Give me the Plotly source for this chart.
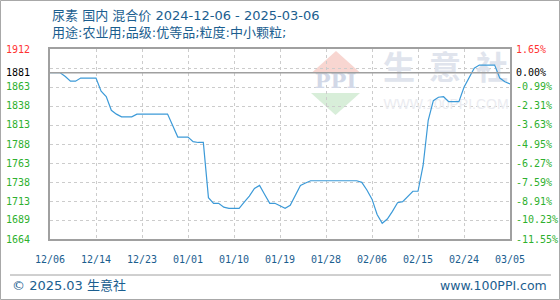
import numpy as np
import plotly.graph_objects as go

# ---------------- data ----------------
day_index = list(range(91))
price = [
    1881, 1881, 1881, 1876, 1870, 1870, 1874, 1874, 1874, 1874,
    1857, 1850, 1832, 1827, 1823.5, 1823.5, 1823.5, 1827, 1827, 1827,
    1827, 1827, 1827, 1827, 1812, 1797, 1797, 1797, 1791, 1790,
    1790, 1718, 1710.6, 1710.6, 1705.5, 1704, 1704, 1704, 1712, 1720,
    1730, 1734, 1722, 1710.6, 1710.6, 1707, 1704, 1708, 1720, 1734,
    1737, 1740, 1740, 1740, 1740, 1740, 1740, 1740, 1740, 1740,
    1740, 1738, 1728, 1716, 1696, 1684.5, 1690, 1700, 1711.4, 1712.7,
    1720, 1726.3, 1726.3, 1760, 1819, 1844.5, 1849, 1849.7, 1843.2, 1843.2,
    1843.2, 1862, 1874, 1887, 1891, 1891, 1891, 1891, 1874, 1869.3,
    1866.3,
]
x_tick_pos = [0, 9, 18, 27, 36, 45, 54, 63, 72, 81, 90]
x_tick_labels = ["12/06", "12/14", "12/23", "01/01", "01/10", "01/19",
                 "01/28", "02/06", "02/15", "02/24", "03/05"]
left_labels = [1912, 1881, 1863, 1838, 1813, 1788, 1763, 1738, 1713, 1689, 1664]
right_labels = ["1.65%", "0.00%", "-0.99%", "-2.31%", "-3.63%", "-4.95%",
                "-6.27%", "-7.59%", "-8.91%", "-10.23%", "-11.55%"]
base_value = 1881
title_text = "尿素 国内 混合价 2024-12-06 - 2025-03-06"
subtitle_text = "用途:农业用;品级:优等品;粒度:中小颗粒;"
watermark_chars = ["生", "意", "社"]

# ---------------- layout helpers ----------------
W, H = 560, 300
L, R, T, B = 50, 510, 49, 239
y_min, y_max = 1664, 1912
x_min, x_max = 0, 90


def px_x(px):
    return (px - L) / (R - L)


def px_y(py):
    return (B - py) / (B - T)


def dx(px):  # pixel -> data x (for watermark placement only)
    return x_min + px_x(px) * (x_max - x_min)


def dy(py):  # pixel -> data y (for watermark placement only)
    return y_min + px_y(py) * (y_max - y_min)


BLUE = "#1b5e8f"
GREEN = "#2eb02e"
RED = "#ff3333"
NUM_FONT = "DejaVu Sans Mono"
TXT_FONT = "DejaVu Sans, Noto Sans CJK SC"

fig = go.Figure()

# watermark texts as text traces (drawn beneath the price line)
fig.add_trace(go.Scatter(
    x=[dx(399), dx(445), dx(492)], y=[dy(71)] * 3, mode="text",
    text=watermark_chars, textposition="middle center",
    textfont=dict(family="Noto Sans CJK SC", size=32, color="#e0e4ed", weight=700),
    hoverinfo="skip", showlegend=False, cliponaxis=False,
))
fig.add_trace(go.Scatter(
    x=[dx(446)], y=[dy(105)], mode="text", text=["WWW.100PPI.COM"],
    textposition="middle center",
    textfont=dict(family="Liberation Sans", size=14, color="#ebecf1"),
    hoverinfo="skip", showlegend=False, cliponaxis=False,
))
fig.add_trace(go.Scatter(
    x=[dx(335.5)], y=[dy(83)], mode="text", text=["PPI"],
    textposition="middle center",
    textfont=dict(family="DejaVu Serif", size=21, color="#d2d8e7", weight=700),
    hoverinfo="skip", showlegend=False, cliponaxis=False,
))

# price line
fig.add_trace(go.Scatter(
    x=day_index, y=price, mode="lines",
    line=dict(color="#3c9ad8", width=1.2),
    hoverinfo="skip", showlegend=False,
))

grid_vals = list(np.linspace(y_min, y_max, 11))

fig.update_layout(
    width=W, height=H,
    margin=dict(l=L, r=W - R, t=T, b=H - B),
    paper_bgcolor="white", plot_bgcolor="white",
    showlegend=False,
    xaxis=dict(
        range=[x_min, x_max], tickvals=x_tick_pos, ticktext=x_tick_labels,
        showgrid=True, gridcolor="#cccccc", griddash="3px,3px", gridwidth=1,
        showline=True, linecolor="#a0a0a0", linewidth=1.5, mirror=True,
        ticks="", zeroline=False,
        tickfont=dict(family=NUM_FONT, size=10, color=BLUE),
        ticklabelstandoff=10,
    ),
    yaxis=dict(
        range=[y_min, y_max], tickvals=grid_vals, showticklabels=False,
        showgrid=True, gridcolor="#cccccc", griddash="3px,3px", gridwidth=1,
        showline=True, linecolor="#a0a0a0", linewidth=1.5, mirror=True,
        ticks="", zeroline=False,
    ),
)

shapes = []
# base line
shapes.append(dict(type="line", xref="paper", yref="y", x0=0, x1=1,
                   y0=base_value, y1=base_value,
                   line=dict(color="#a0a0a0", width=1.5)))
# outer border
shapes.append(dict(type="rect", xref="paper", yref="paper",
                   x0=px_x(0.5), x1=px_x(559.5), y0=px_y(299.5), y1=px_y(0.5),
                   line=dict(color="#a8a8a8", width=1), layer="below"))
# bottom separator
shapes.append(dict(type="line", xref="paper", yref="paper",
                   x0=px_x(10), x1=px_x(551), y0=px_y(275), y1=px_y(275),
                   line=dict(color="#a0a0a0", width=1)))


def tri(p):
    return "M " + " L ".join(f"{px_x(a):.5f},{px_y(b):.5f}" for a, b in p) + " Z"


# watermark logo triangles
shapes.append(dict(type="path", xref="paper", yref="paper", layer="below",
                   path=tri([(312, 72.5), (360, 72.5), (336, 51)]),
                   fillcolor="#f8d6d1", line=dict(width=0)))
shapes.append(dict(type="path", xref="paper", yref="paper", layer="below",
                   path=tri([(311, 93), (360, 93), (335.5, 115)]),
                   fillcolor="#d8eed9", line=dict(width=0)))

annotations = []
# titles
annotations.append(dict(text=title_text, xref="paper", yref="paper",
                        x=px_x(50), y=px_y(15.5), xanchor="left", yanchor="middle",
                        showarrow=False,
                        font=dict(family=TXT_FONT, size=13, color=BLUE)))
annotations.append(dict(text=subtitle_text, xref="paper", yref="paper",
                        x=px_x(50), y=px_y(33), xanchor="left", yanchor="middle",
                        showarrow=False,
                        font=dict(family=TXT_FONT, size=13, color=BLUE)))

# axis labels
for i, (lv, rv) in enumerate(zip(left_labels, right_labels)):
    col = RED if i == 0 else ("#000000" if i == 1 else GREEN)
    annotations.append(dict(text=str(lv), xref="paper", yref="y",
                            x=px_x(4), y=lv, xanchor="left", yanchor="middle",
                            showarrow=False,
                            font=dict(family=NUM_FONT, size=10, color=col)))
    annotations.append(dict(text=rv, xref="paper", yref="y",
                            x=px_x(514), y=lv, xanchor="left", yanchor="middle",
                            showarrow=False,
                            font=dict(family=NUM_FONT, size=10, color=col)))

# footer
annotations.append(dict(text="© 2025.03 生意社", xref="paper", yref="paper",
                        x=px_x(10), y=px_y(285), xanchor="left", yanchor="middle",
                        showarrow=False,
                        font=dict(family=TXT_FONT, size=13, color=BLUE)))
annotations.append(dict(text="www.100PPI.com", xref="paper", yref="paper",
                        x=px_x(549), y=px_y(285.5), xanchor="right", yanchor="middle",
                        showarrow=False,
                        font=dict(family=TXT_FONT, size=12.5, color=BLUE)))

fig.update_layout(shapes=shapes, annotations=annotations)
fig.write_html("out.html")
